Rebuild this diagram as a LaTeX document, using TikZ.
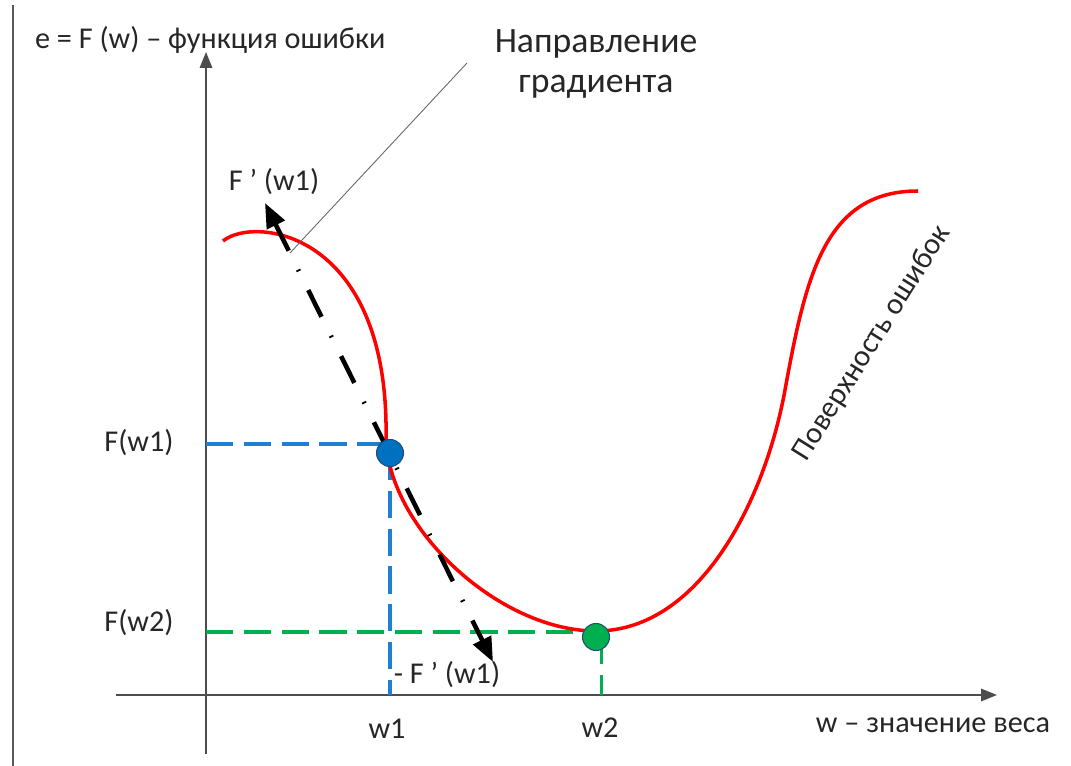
\documentclass[tikz,border=0pt]{standalone}
\usepackage{fontspec}
\setmainfont{Carlito}
\usetikzlibrary{arrows.meta, positioning, calc}

\definecolor{curvered}{HTML}{FF0000}
\definecolor{dotblue}{HTML}{0070C0}
\definecolor{dotgreen}{HTML}{00B050}
\definecolor{rimblue}{HTML}{1F4E79}
\definecolor{dashblue}{HTML}{1F7FD0}

\begin{document}
\begin{tikzpicture}[
      x=0.02cm, y=-0.02cm,
      every node/.style={font=\fontsize{17.2}{20}\selectfont, text=black!85, inner sep=1pt},
      axis/.style={draw=black!70, line width=1.1pt, -{Triangle[length=9pt, width=7pt]}},
      guide/.style={line width=2pt, dash pattern=on 15.5pt off 6pt},
      gradient/.style={line width=2.6pt, dash pattern=on 17pt off 12pt on 1pt off 12pt,
        {Triangle[length=14pt, width=11pt]}-{Triangle[length=14pt, width=11pt]}},
      surface/.style={draw=curvered, line width=2pt},
      point/.style={circle, draw=rimblue, line width=0.6pt, minimum size=0.54cm, inner sep=0pt}
    ]
      \useasboundingbox (0,0) rectangle (1071,766);

      \coordinate (bordertop) at (13,5);
      \coordinate (borderbot) at (13,766);
      \draw[draw=black!65, line width=1pt] (bordertop) -- (borderbot);

      \coordinate (xstart) at (116,695);
      \coordinate (xend) at (997,695);
      \coordinate (ystart) at (206,754);
      \coordinate (yend) at (206,52);
      \draw[axis] (xstart) -- (xend);
      \draw[axis] (ystart) -- (yend);

      \coordinate (p1) at (390,453);
      \coordinate (p2) at (596,637);
      \coordinate (fw1) at (206,444);
      \coordinate (fw2) at (206,632);

      \draw[guide, dashblue] (fw1) -- (fw1 -| p1);
      \draw[guide, dashblue] (p1) -- (p1 |- xend);
      \draw[guide, dotgreen] (fw2) -- (fw2 -| p2);
      \draw[guide, dotgreen] ([xshift=3]p2) -- ([xshift=3]p2 |- xend);

      \draw[surface] (223,241) .. controls (255,215) and (390,232) .. (386,440)
        .. controls (390,530) and (500,631) .. (596,631)
        .. controls (700,631) and (765,500) .. (785,390)
        .. controls (806,275) and (825,191) .. (918,191);

      \coordinate (gtop) at (265,203);
      \coordinate (gbot) at (493,662);
      \draw[gradient] (gtop) -- (gbot);

      \coordinate (leadbot) at (290,253);
      \coordinate (leadtop) at (467,63);
      \draw[draw=black!60, line width=0.5pt] (leadbot) -- (leadtop);

      \node[point, fill=dotblue] (w1dot) at (p1) {};
      \node[point, fill=dotgreen] (w2dot) at (p2) {};

      \node[anchor=west] (ylabel) at (33,40) {e = F (w) – функция ошибки};
      \node[align=center, font=\fontsize{20.3}{23}\selectfont] (gradlabel) at (596,64) {Направление\\градиента};
      \node (fprime) at (274,182) {F ’ (w1)};
      \node (fw1label) at (139,443) {F(w1)};
      \node (fw2label) at (139,623) {F(w2)};
      \node (w1label) at (387,729) {w1};
      \node (w2label) at (600,728) {w2};
      \node (wlabel) at (933,725) {w – значение веса};
      \node (negfprime) at (447,675) {- F ’ (w1)};
      \node[rotate=58] (surflabel) at (872,343) {Поверхность ошибок};
    \end{tikzpicture}
\end{document}
